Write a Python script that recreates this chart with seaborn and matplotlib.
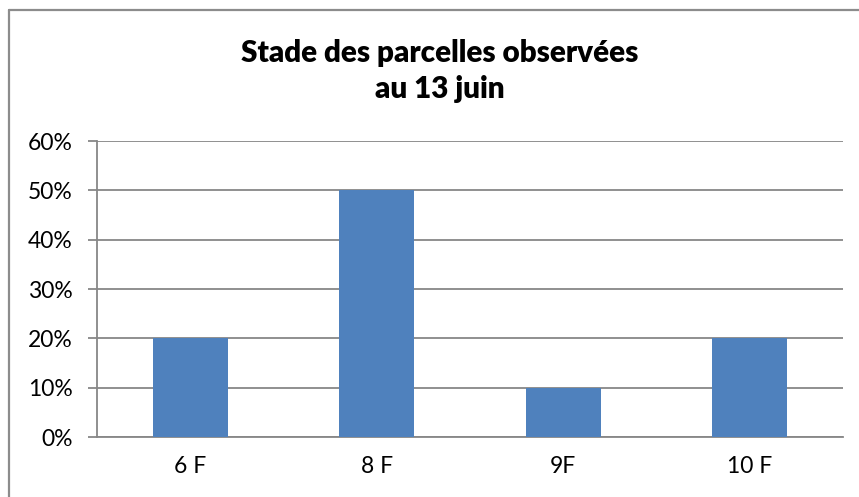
import pandas as pd
import seaborn as sns
import matplotlib.pyplot as plt
from matplotlib.lines import Line2D
from matplotlib.ticker import FuncFormatter

# Data
stades = ["6 F", "8 F", "9F", "10 F"]
parts = [0.20, 0.50, 0.10, 0.20]
yticks = [0, 0.1, 0.2, 0.3, 0.4, 0.5, 0.6]

df = pd.DataFrame({"stade": stades, "part": parts})

sns.set_style("white")
plt.rcParams['font.family'] = ['Lato', 'DejaVu Sans']
plt.rcParams['text.color'] = 'black'
plt.rcParams['xtick.labelcolor'] = 'black'
plt.rcParams['ytick.labelcolor'] = 'black'

fig = plt.figure(figsize=(8.59, 4.97), dpi=100)
ax = fig.add_axes([97 / 859, 1 - 437 / 497, 746 / 859, 296 / 497])

sns.barplot(data=df, x="stade", y="part", color="#4F81BD", width=0.4,
            saturation=1, linewidth=0, edgecolor="none", ax=ax, zorder=3)

grid_col = "#878787"
ax.set_ylim(0, 0.6)
ax.set_xlim(-0.5, 3.5)
ax.set_yticks(yticks)
ax.yaxis.set_major_formatter(FuncFormatter(lambda v, p: f"{v * 100:.0f}%"))
ax.grid(axis="y", color=grid_col, linewidth=1.3, zorder=0)
ax.set_xlabel("")
ax.set_ylabel("")

for side in ["top", "right"]:
    ax.spines[side].set_visible(False)
for side in ["left", "bottom"]:
    ax.spines[side].set_color(grid_col)
    ax.spines[side].set_linewidth(1.3)

# category boundary ticks like Excel
ax.set_xticks([-0.5, 0.5, 1.5, 2.5, 3.5], minor=True)
ax.tick_params(axis="x", which="major", length=0, pad=14, labelsize=16.5)
ax.tick_params(axis="x", which="minor", length=5.5, width=1.3, color=grid_col, direction="out")
ax.tick_params(axis="y", which="major", length=6.5, width=1.3, color=grid_col,
               direction="out", pad=11, labelsize=16.5, left=True)

fig.text(0.512, 0.857, "Stade des parcelles observées\nau 13 juin", ha="center",
         va="center", fontsize=21.3, fontweight="heavy", linespacing=1.35)

# chart frame (top and left edges visible)
fig.add_artist(Line2D([8.5 / 859, 8.5 / 859], [0, 1 - 9.5 / 497],
                      transform=fig.transFigure, color="#8C8C8C", linewidth=1.6))
fig.add_artist(Line2D([8.5 / 859, 1], [1 - 9.5 / 497, 1 - 9.5 / 497],
                      transform=fig.transFigure, color="#8C8C8C", linewidth=1.6))

fig.savefig("out.png", dpi=100, facecolor="white")
